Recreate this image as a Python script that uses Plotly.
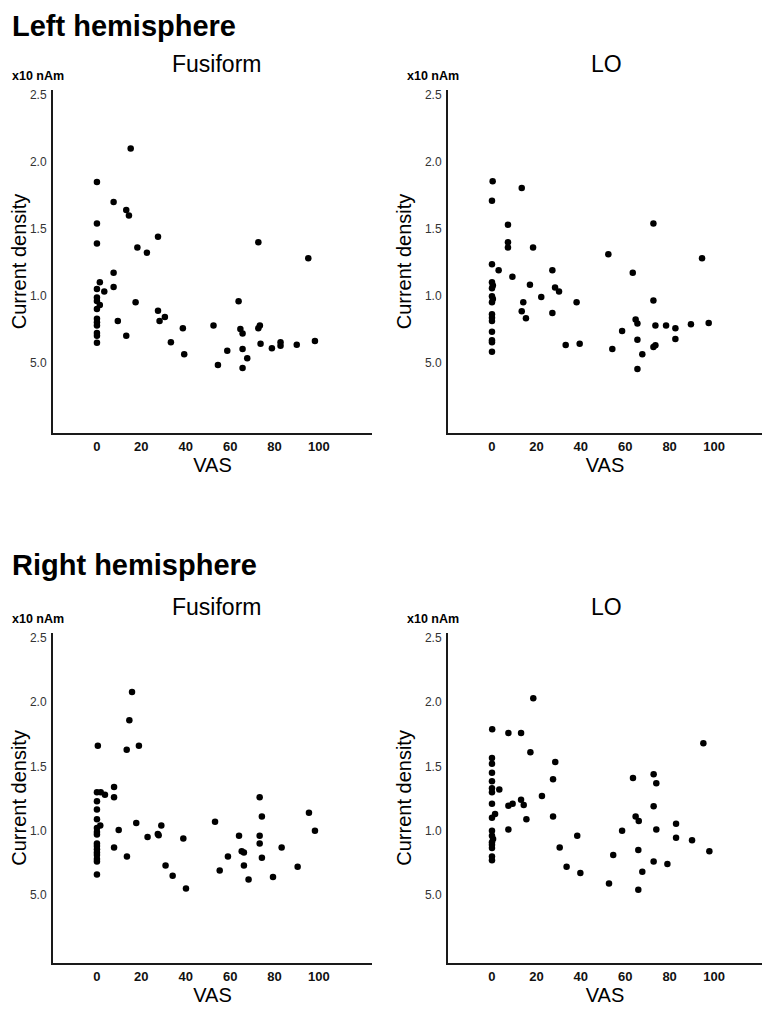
import plotly.graph_objects as go

# ---------------- data (VAS, current density x10 nAm) ----------------
lf_x = [0, 0, 0, 0, 0, 0, 0, 0, 0, 0, 0, 0, 0,
        1.3, 1.3, 3.3, 7.5, 7.5, 7.5, 9.4, 13.2, 14.4, 15.2,
        13.2, 17.4, 18.2, 22.5, 27.5, 27.5, 28.2, 30.6, 33.3, 38.7,
        39.3, 52.5, 54.5, 58.7, 63.8, 64.6, 65.6, 65.6, 65.6, 67.7,
        72.7, 72.7, 73.4, 73.7, 78.8, 82.7, 82.7, 90, 95.2, 98.2]
lf_y = [1.85, 1.54, 1.39, 1.05, 0.985, 0.96, 0.90, 0.826, 0.80, 0.776, 0.72, 0.70, 0.646,
        1.10, 0.93, 1.03, 1.70, 1.17, 1.065, 0.81, 1.64, 1.60, 2.10,
        0.70, 0.95, 1.36, 1.32, 1.44, 0.886, 0.81, 0.84, 0.65, 0.756,
        0.56, 0.776, 0.48, 0.587, 0.957, 0.75, 0.716, 0.60, 0.458, 0.53,
        1.40, 0.756, 0.776, 0.64, 0.605, 0.65, 0.625, 0.632, 1.28, 0.66]

ll_x = [0.3, 0, 0, 0, 0.4, 0, 0, 0.4, 0, 0, 0, 0, 0, 0, 0, 0,
        13.4, 7.2, 72.7, 7.2, 7.2, 18.5, 52.4, 94.6, 3.0, 27.2,
        63.4, 9.2, 17.1, 28.4, 30.2, 22.2, 14.1, 38.1, 72.7, 13.4,
        27.2, 15.3, 33.2, 39.5, 54.2, 58.6, 64.7, 65.5, 65.5, 67.7,
        65.5, 73.6, 72.7, 73.6, 78.4, 82.6, 82.6, 89.6, 97.6]
ll_y = [1.855, 1.71, 1.235, 1.10, 1.075, 1.055, 0.995, 0.975, 0.95, 0.86, 0.834, 0.81, 0.73, 0.665, 0.65, 0.58,
        1.805, 1.53, 1.54, 1.40, 1.36, 1.36, 1.31, 1.28, 1.19, 1.19,
        1.17, 1.14, 1.08, 1.06, 1.03, 0.99, 0.95, 0.95, 0.963, 0.883,
        0.87, 0.83, 0.63, 0.64, 0.60, 0.735, 0.82, 0.79, 0.67, 0.56,
        0.45, 0.775, 0.615, 0.628, 0.775, 0.755, 0.675, 0.786, 0.795]

rf_x = [0.4, 0, 0, 0, 0, 0, 0, 0, 0, 0, 0, 0, 0, 0, 0, 0,
        1.7, 3.6, 1.5, 15.8, 14.6, 13.4, 18.9, 7.7, 7.7, 9.8,
        7.7, 13.5, 17.7, 22.8, 27.4, 27.8, 29, 30.9, 34.1, 38.9,
        40.1, 53.2, 55.3, 59, 64, 65.2, 66.2, 66.2, 68.3, 73.3,
        74.3, 73.3, 73.3, 74.3, 79.3, 83.2, 90.4, 95.5, 98.2]
rf_y = [1.66, 1.30, 1.23, 1.165, 1.09, 1.02, 0.99, 0.97, 0.90, 0.88, 0.856, 0.83, 0.81, 0.78, 0.76, 0.66,
        1.30, 1.28, 1.04, 2.08, 1.86, 1.63, 1.66, 1.34, 1.26, 1.005,
        0.87, 0.80, 1.06, 0.95, 0.975, 0.965, 1.04, 0.73, 0.65, 0.94,
        0.55, 1.07, 0.69, 0.80, 0.96, 0.84, 0.83, 0.73, 0.62, 1.26,
        1.11, 0.96, 0.90, 0.79, 0.64, 0.87, 0.72, 1.14, 1.00]

rl_x = [0.1, 0, 0, 0, 0, 0, 0, 0, 0, 0, 0, 0.5, 0, 0, 0, 0, 0,
        3.3, 1.4, 18.6, 7.4, 13.1, 95.2, 17.3, 28.5, 27.5, 22.5,
        7.4, 9.3, 13.1, 14.3, 15.5, 27.5, 7.4, 30.5, 33.6, 38.4,
        39.8, 52.7, 54.6, 58.6, 63.5, 64.7, 66.1, 65.9, 67.7, 65.9,
        72.8, 74, 72.8, 74, 72.8, 79, 82.9, 82.9, 90.1, 97.9]
rl_y = [1.79, 1.565, 1.52, 1.45, 1.385, 1.33, 1.30, 1.21, 1.10, 1.00, 0.96, 0.935, 0.91, 0.89, 0.865, 0.80, 0.77,
        1.32, 1.13, 2.03, 1.76, 1.76, 1.68, 1.61, 1.535, 1.40, 1.27,
        1.195, 1.21, 1.24, 1.20, 1.09, 1.11, 1.01, 0.87, 0.72, 0.96,
        0.67, 0.59, 0.81, 1.00, 1.41, 1.11, 1.075, 0.85, 0.68, 0.54,
        1.44, 1.37, 1.19, 1.01, 0.76, 0.74, 1.055, 0.945, 0.925, 0.84]

x_ticks = [0, 20, 40, 60, 80, 100]
y_ticks = [0.5, 1.0, 1.5, 2.0, 2.5]
y_tick_labels = ["5.0", "1.0", "1.5", "2.0", "2.5"]

panel_titles = ["Fusiform", "LO", "Fusiform", "LO"]
section_titles = ["Left hemisphere", "Right hemisphere"]
unit_label = "x10 nAm"
x_title = "VAS"
y_title = "Current density"

# ---------------- figure ----------------
# page body has an 8px margin, so the figure starts at (8, 8) in the window
OFF = 8
W, H = 754, 999
FONT = "Liberation Sans, Arial, sans-serif"


def px(x):
    return min(1.0, max(0.0, (x - OFF) / W))


def py(y):
    return min(1.0, max(0.0, 1 - (y - OFF) / H))


fig = go.Figure()

series = [(lf_x, lf_y), (ll_x, ll_y), (rf_x, rf_y), (rl_x, rl_y)]
for i, (xs, ys) in enumerate(series):
    fig.add_trace(go.Scatter(
        x=xs, y=ys, mode="markers",
        marker=dict(size=6.5, color="black", line=dict(width=0)),
        xaxis="x" if i == 0 else f"x{i+1}",
        yaxis="y" if i == 0 else f"y{i+1}",
        showlegend=False, hoverinfo="x+y",
    ))

# pixel extents (in the window) of each axis box
x_domains = [(53, 372), (448, 762)]
x_ranges = [[-19.8, 123.9], [-19.8, 121.6]]
y_domains = [(88, 432), (632, 963)]

layout = dict(
    width=W, height=H,
    margin=dict(l=0, r=0, t=0, b=0),
    paper_bgcolor="white", plot_bgcolor="white",
    font=dict(family=FONT, color="black"),
    showlegend=False,
)

annotations = []
for i in range(4):
    col = i % 2
    row = i // 2
    xd = x_domains[col]
    yd = y_domains[row]
    xkey = "xaxis" if i == 0 else f"xaxis{i+1}"
    ykey = "yaxis" if i == 0 else f"yaxis{i+1}"
    xa = "x" if i == 0 else f"x{i+1}"
    ya = "y" if i == 0 else f"y{i+1}"
    layout[xkey] = dict(
        domain=[px(xd[0]), px(xd[1])],
        anchor=ya, range=x_ranges[col],
        tickvals=x_ticks, ticktext=[str(v) for v in x_ticks],
        showgrid=False, zeroline=False,
        showline=True, linecolor="#1a1a1a", linewidth=2,
        ticks="", tickfont=dict(size=13, color="#111", weight="bold"),
        title=dict(text=x_title, font=dict(size=20, color="black"), standoff=4),
    )
    layout[ykey] = dict(
        domain=[py(yd[1]), py(yd[0])],
        anchor=xa, range=[-0.03, 2.54],
        tickvals=y_ticks, ticktext=y_tick_labels,
        showgrid=False, zeroline=False,
        showline=True, linecolor="#1a1a1a", linewidth=2,
        ticks="", ticklabelstandoff=2,
        tickfont=dict(size=12, color="#333"),
        title=dict(text=y_title, font=dict(size=20, color="black"), standoff=8),
    )
    # panel title
    cx = 216 if col == 0 else 606
    annotations.append(dict(
        x=px(cx), y=py(yd[0] - 26), xref="paper", yref="paper",
        text=panel_titles[i], showarrow=False, xanchor="center", yanchor="middle",
        font=dict(size=23, color="black"),
    ))
    # unit label
    annotations.append(dict(
        x=px(xd[0] - 15), y=py(yd[0] - 14), xref="paper", yref="paper",
        text=unit_label, showarrow=False, xanchor="center", yanchor="middle",
        font=dict(size=12.5, color="black", weight="bold"),
    ))

head_y = [24, 564]
for r, t in enumerate(section_titles):
    annotations.append(dict(
        x=px(10), y=py(head_y[r]), xref="paper", yref="paper",
        text=t, showarrow=False, xanchor="left", yanchor="middle",
        font=dict(size=29, color="black", weight="bold"),
    ))

layout["annotations"] = annotations
fig.update_layout(**layout)
fig.write_html("out.html")
